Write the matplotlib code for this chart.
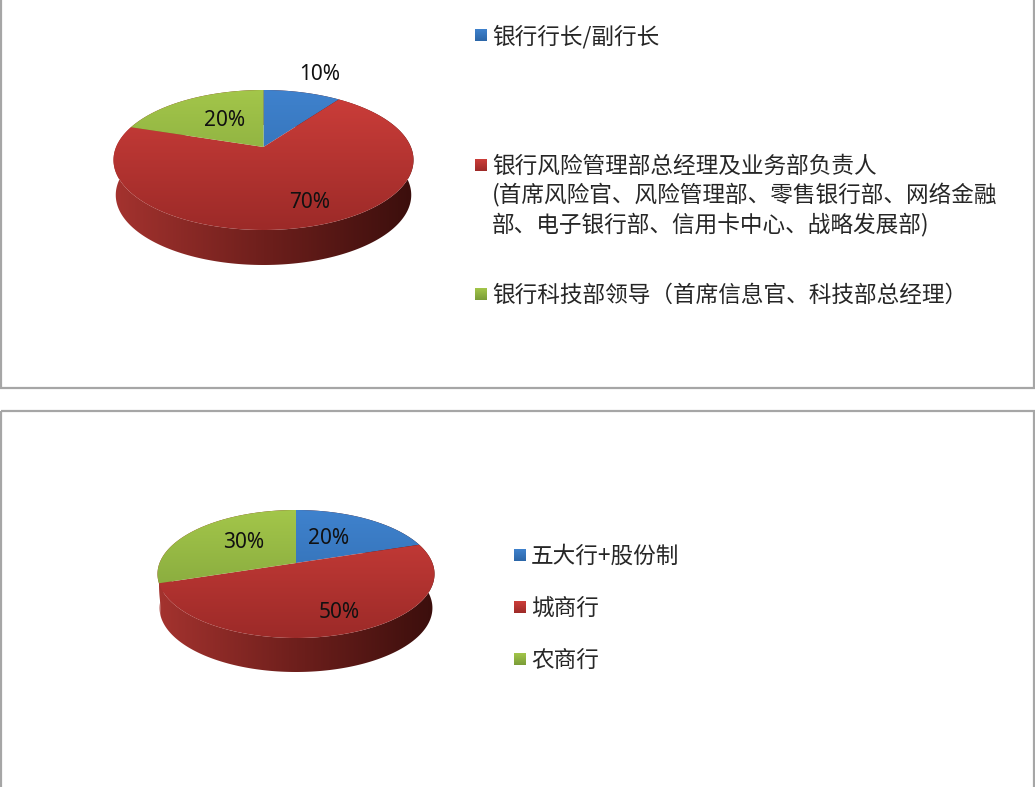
import numpy as np
import matplotlib
matplotlib.use("Agg")
import matplotlib.pyplot as plt
from matplotlib.colors import LinearSegmentedColormap
from matplotlib.patches import Polygon, Rectangle

plt.rcParams["font.family"] = ["Noto Sans CJK SC", "DejaVu Sans"]

# data
top_values = [10, 70, 20]
top_labels = ["银行行长/副行长",
              "银行风险管理部总经理及业务部负责人\n(首席风险官、风险管理部、零售银行部、网络金融\n部、电子银行部、信用卡中心、战略发展部)",
              "银行科技部领导（首席信息官、科技部总经理）"]
bottom_values = [20, 50, 30]
bottom_labels = ["五大行+股份制", "城商行", "农商行"]

# (upper colour, lower colour) for the faces
blue = ("#3f82cd", "#2c66a8")
red = ("#cd3e3a", "#9c2a28")
green = ("#a3c64a", "#7a9c38")
side_colors = ["#a5332f", "#6e1f1c", "#3a0e0c"]
face_colors = [blue, red, green]


def clipped_ramp(ax, patch, colors, extent, horizontal=False):
    # paint a linear gradient over extent and clip it to the patch
    ax.add_patch(patch)
    patch.set_facecolor("none")
    patch.set_edgecolor("none")
    cmap = LinearSegmentedColormap.from_list("g", colors)
    ramp = np.linspace(0, 1, 256)
    ramp = ramp.reshape(1, -1) if horizontal else ramp.reshape(-1, 1)
    im = ax.imshow(ramp, cmap=cmap, extent=extent, aspect="auto",
                   interpolation="bilinear", zorder=patch.get_zorder())
    im.set_clip_path(patch)


def pie_3d(ax, values, cx, apex_y, top, bottom, half_w, depth):
    # perspective disc: the pie centre sits above the middle of the ellipse
    up = apex_y - top
    down = bottom - apex_y
    a = 2 / (1 / up + 1 / down)
    k = a / up - 1
    s = half_w * np.sqrt(1 - k ** 2)

    def project(theta):
        x, v = np.sin(theta), np.cos(theta)
        return cx + s * x / (1 + k * v), apex_y - a * v / (1 + k * v)

    edges = np.cumsum([0] + list(values)) / sum(values) * 2 * np.pi
    box = (cx - half_w - 2, cx + half_w + 2, bottom + depth, top)
    for i in range(len(values)):
        theta = np.linspace(edges[i], edges[i + 1], 200)
        xs, ys = project(theta)
        rim = np.column_stack([xs, ys])
        # the base is a little narrower than the top face
        base = np.column_stack([cx + (xs - cx) * 0.985, ys + depth])
        side = np.vstack([rim, base[::-1]])
        clipped_ramp(ax, Polygon(side, closed=True, zorder=2), side_colors, box, horizontal=True)
    box = (cx - half_w - 2, cx + half_w + 2, bottom, top)
    for i in range(len(values)):
        theta = np.linspace(edges[i], edges[i + 1], 200)
        xs, ys = project(theta)
        face = np.vstack([[cx, apex_y], np.column_stack([xs, ys])])
        clipped_ramp(ax, Polygon(face, closed=True, zorder=3), face_colors[i], box)


def legend_item(ax, x, y, label, color):
    clipped_ramp(ax, Rectangle((x, y - 6), 12, 12, zorder=3), color, (x, x + 12, y + 6, y - 6))
    for j, line in enumerate(label.split("\n")):
        ax.text(x + 17, y + 1.5 + 29 * j, line, fontsize=16.3, color="#262626",
                va="center", ha="left", zorder=4)


fig = plt.figure(figsize=(10.35, 7.87), dpi=100)
ax = fig.add_axes([0, 0, 1, 1])

# chart frames
ax.add_patch(Rectangle((1, -5), 1033, 393, fill=False, edgecolor="#a6a6a6", linewidth=1.6))
ax.add_patch(Rectangle((1, 411), 1033, 390, fill=False, edgecolor="#a6a6a6", linewidth=1.6))

pie_3d(ax, top_values, 263.5, 147, 90, 230, 150, 35)
pie_3d(ax, bottom_values, 296, 563, 510, 638, 138.5, 34)

# percent labels
for (x, y), v in zip([(320, 74), (310, 203), (225, 120)], top_values):
    ax.text(x, y, f"{v}%", fontsize=15, family="Noto Sans", color="#111111", ha="center", va="center", zorder=5)
for (x, y), v in zip([(329, 538), (339, 612), (244, 542)], bottom_values):
    ax.text(x, y, f"{v}%", fontsize=15, family="Noto Sans", color="#111111", ha="center", va="center", zorder=5)

# legends
for y, label, color in zip([35, 165, 294], top_labels, face_colors):
    legend_item(ax, 475, y, label, color)
for y, label, color in zip([555, 607, 659], bottom_labels, face_colors):
    legend_item(ax, 514, y, label, color)

ax.set_xlim(0, 1035)
ax.set_ylim(787, 0)
ax.axis("off")

fig.savefig("out.png", dpi=100)
